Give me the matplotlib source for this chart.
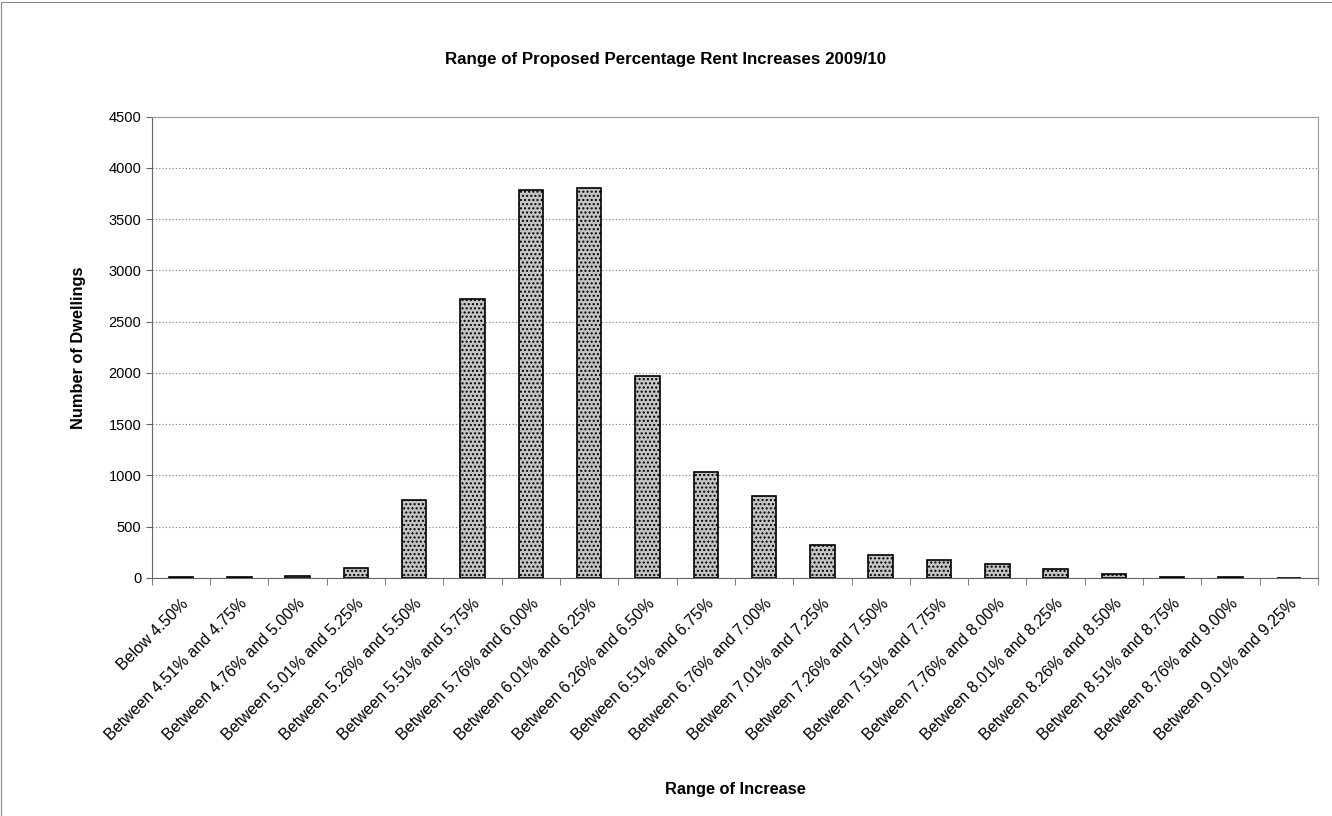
import numpy as np
import matplotlib
matplotlib.use("Agg")
import matplotlib.pyplot as plt
from matplotlib.patches import Rectangle

plt.rcParams['font.family'] = ['Liberation Sans', 'DejaVu Sans']
plt.rcParams['hatch.color'] = "#8a8a8a"

# Data
categories = [
    "Below 4.50%",
    "Between 4.51% and 4.75%",
    "Between 4.76% and 5.00%",
    "Between 5.01% and 5.25%",
    "Between 5.26% and 5.50%",
    "Between 5.51% and 5.75%",
    "Between 5.76% and 6.00%",
    "Between 6.01% and 6.25%",
    "Between 6.26% and 6.50%",
    "Between 6.51% and 6.75%",
    "Between 6.76% and 7.00%",
    "Between 7.01% and 7.25%",
    "Between 7.26% and 7.50%",
    "Between 7.51% and 7.75%",
    "Between 7.76% and 8.00%",
    "Between 8.01% and 8.25%",
    "Between 8.26% and 8.50%",
    "Between 8.51% and 8.75%",
    "Between 8.76% and 9.00%",
    "Between 9.01% and 9.25%",
]
dwellings = [12, 5, 22, 100, 760, 2725, 3780, 3800, 1975, 1030,
             800, 320, 225, 180, 140, 88, 40, 12, 5, 2]
y_ticks = [0, 500, 1000, 1500, 2000, 2500, 3000, 3500, 4000, 4500]

fig = plt.figure(figsize=(13.32, 8.16), dpi=100)
ax = fig.add_axes([0.114, 0.2917, 0.8755, 0.5653])

x = np.arange(len(categories))
ax.bar(x, dwellings, width=0.42, color="#c4c4c4", edgecolor="black",
       linewidth=1.2, hatch="....", zorder=3)

ax.set_xlim(-0.5, len(categories) - 0.5)
ax.set_ylim(0, 4500)
ax.set_yticks(y_ticks)
ax.set_yticklabels([str(v) for v in y_ticks], fontsize=10.5)
ax.yaxis.grid(True, linestyle=(0, (1, 2)), color="#7a7a7a", linewidth=0.8, zorder=0)

ax.set_xticks(x)
ax.set_xticklabels(categories, rotation=45, ha="right", rotation_mode="anchor",
                   fontsize=11.5)
ax.tick_params(axis="x", length=0, pad=13)
ax.set_xticks(np.arange(len(categories) + 1) - 0.5, minor=True)
ax.tick_params(axis="x", which="minor", length=5, color="#666666")
ax.tick_params(axis="y", length=4, color="#666666")

for side in ["left", "bottom"]:
    ax.spines[side].set_color("#666666")
for side in ["top", "right"]:
    ax.spines[side].set_color("#999999")
    ax.spines[side].set_linestyle((0, (1, 1)))

ax.set_xlabel("Range of Increase", fontsize=11.8, fontweight="bold", labelpad=28)
ax.set_ylabel("Number of Dwellings", fontsize=11.8, fontweight="bold", labelpad=16)
fig.text(0.5, 0.927, "Range of Proposed Percentage Rent Increases 2009/10",
         ha="center", va="center", fontsize=12.2, fontweight="bold")

# outer chart frame
fig.patches.append(Rectangle((0.001, -0.01), 1.02, 1.008, transform=fig.transFigure,
                             fill=False, edgecolor="#888888", linewidth=0.8))

fig.savefig("out.png", dpi=100)
